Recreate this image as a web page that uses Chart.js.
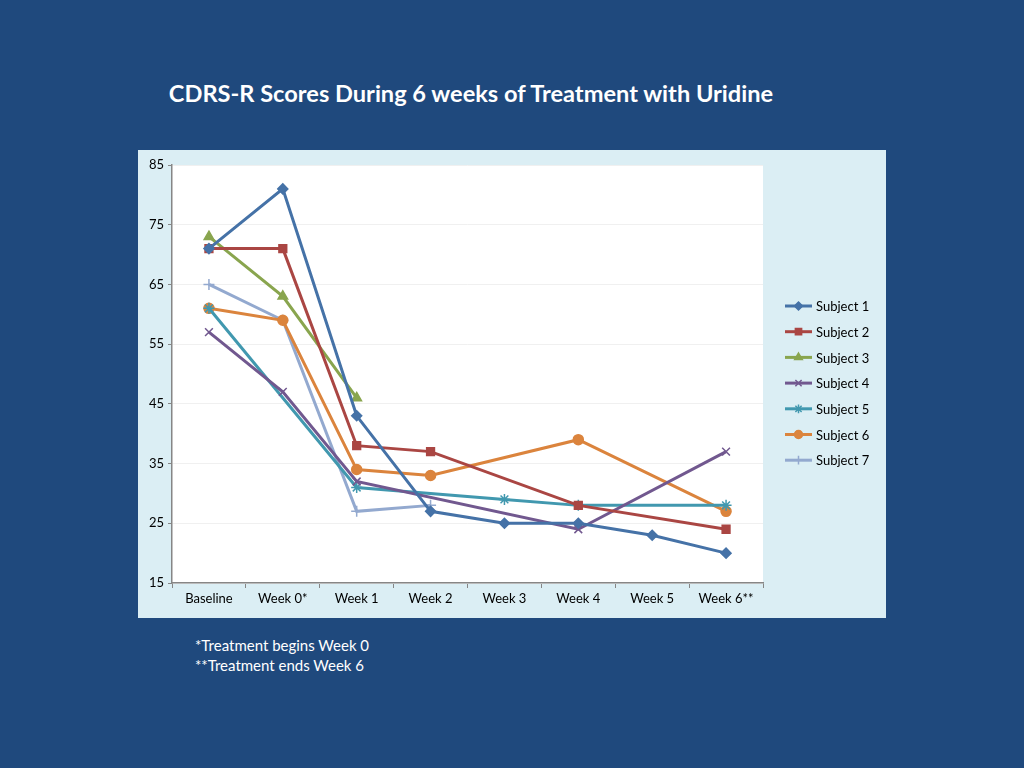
<!DOCTYPE html>
<html>
<head>
<meta charset="utf-8">
<script src="https://cdn.jsdelivr.net/npm/chart.js@4"></script>
<style>
  html, body { margin: 0; padding: 0; }
  body { width: 1024px; height: 768px; background: #1F497D; position: relative; overflow: hidden; font-family: Lato, "Open Sans", sans-serif; }
  #title { position: absolute; left: 0; width: 942px; top: 79px; text-align: center; color: #fff; font-weight: bold; font-size: 23.6px; }
  #panel { position: absolute; left: 138px; top: 150px; width: 748px; height: 468px; background: #DBEEF4; }
  #notes { position: absolute; left: 195px; top: 635px; color: #fff; font-size: 15px; line-height: 20px; }
</style>
</head>
<body>
<div id="title">CDRS-R Scores During 6 weeks of Treatment with Uridine</div>
<div id="panel"><canvas id="chart" width="748" height="468"></canvas></div>
<div id="notes">*Treatment begins Week 0<br>**Treatment ends Week 6</div>
<script>
const weeks = ['Baseline', 'Week 0*', 'Week 1', 'Week 2', 'Week 3', 'Week 4', 'Week 5', 'Week 6**'];
const subject1 = [71, 81, 43, 27, 25, 25, 23, 20];
const subject2 = [71, 71, 38, 37, null, 28, null, 24];
const subject3 = [73, 63, 46, null, null, null, null, null];
const subject4 = [57, 47, 32, null, null, 24, null, 37];
const subject5 = [61, null, 31, null, 29, 28, null, 28];
const subject6 = [61, 59, 34, 33, null, 39, null, 27];
const subject7 = [65, 59, 27, 28, null, null, null, null];
const yTicks = [15, 25, 35, 45, 55, 65, 75, 85];

const series = [
  { label: 'Subject 1', data: subject1, color: '#4572A7', style: 'rectRot', r: 5 },
  { label: 'Subject 2', data: subject2, color: '#AA4643', style: 'rect', r: 5.5 },
  { label: 'Subject 3', data: subject3, color: '#89A54E', style: 'triangle', r: 5.5 },
  { label: 'Subject 4', data: subject4, color: '#71588F', style: 'crossRot', r: 5.5 },
  { label: 'Subject 5', data: subject5, color: '#4198AF', style: 'star', r: 5.5 },
  { label: 'Subject 6', data: subject6, color: '#DB843D', style: 'circle', r: 5 },
  { label: 'Subject 7', data: subject7, color: '#93A9CF', style: 'cross', r: 5.5 }
];

// white plot area + legend drawn by hand (line with marker in the middle)
const plotBg = {
  id: 'plotBg',
  beforeDraw(chart) {
    const { ctx, chartArea: a } = chart;
    ctx.save();
    ctx.fillStyle = '#ffffff';
    ctx.fillRect(a.left, a.top, a.right - a.left, a.bottom - a.top);
    ctx.restore();
  },
  afterDraw(chart) {
    const ctx = chart.ctx;
    ctx.save();
    chart.data.datasets.forEach((ds, i) => {
      const y = 156 + i * 25.7;
      ctx.strokeStyle = ds.borderColor;
      ctx.lineWidth = 3;
      ctx.beginPath();
      ctx.moveTo(647, y);
      ctx.lineTo(674, y);
      ctx.stroke();
      ctx.fillStyle = ds.borderColor;
      ctx.lineWidth = 1.5;
      Chart.helpers.drawPoint(ctx, { pointStyle: ds.pointStyle, radius: ds.pointRadius * 0.8, rotation: 0, borderWidth: 1.5 }, 660.5, y);
      ctx.fillStyle = '#000';
      ctx.font = '13px Lato, "Open Sans", sans-serif';
      ctx.textBaseline = 'middle';
      ctx.fillText(ds.label, 678, y + 1);
    });
    ctx.restore();
  }
};

new Chart(document.getElementById('chart'), {
  type: 'line',
  data: {
    labels: weeks,
    datasets: series.map(s => ({
      label: s.label,
      data: s.data,
      borderColor: s.color,
      backgroundColor: s.color,
      borderWidth: 3,
      pointStyle: s.style,
      pointRadius: s.r,
      pointBorderWidth: 1.5,
      pointHoverRadius: s.r,
      tension: 0,
      spanGaps: true
    }))
  },
  options: {
    responsive: false,
    animation: false,
    layout: { padding: { left: 4, right: 123, top: 15, bottom: 0 } },
    plugins: { legend: { display: false }, tooltip: { enabled: false } },
    scales: {
      x: {
        offset: true,
        grid: { offset: true, drawOnChartArea: false, color: '#868686', tickLength: 5 },
        border: { color: '#868686', width: 1.5 },
        ticks: { color: '#000', font: { family: 'Lato', size: 13 }, padding: 3, maxRotation: 0 },
        afterFit(s) { s.height = 35; }
      },
      y: {
        min: 15,
        max: 85,
        afterBuildTicks(s) { s.ticks = yTicks.map(v => ({ value: v })); },
        grid: { color: '#F0F0F0', tickLength: 4, tickColor: '#868686' },
        border: { color: '#868686', width: 1.5 },
        ticks: { color: '#000', font: { family: 'Lato', size: 13 }, padding: 4 },
        afterFit(s) { s.width = 30; }
      }
    }
  },
  plugins: [plotBg]
});
</script>
</body>
</html>
